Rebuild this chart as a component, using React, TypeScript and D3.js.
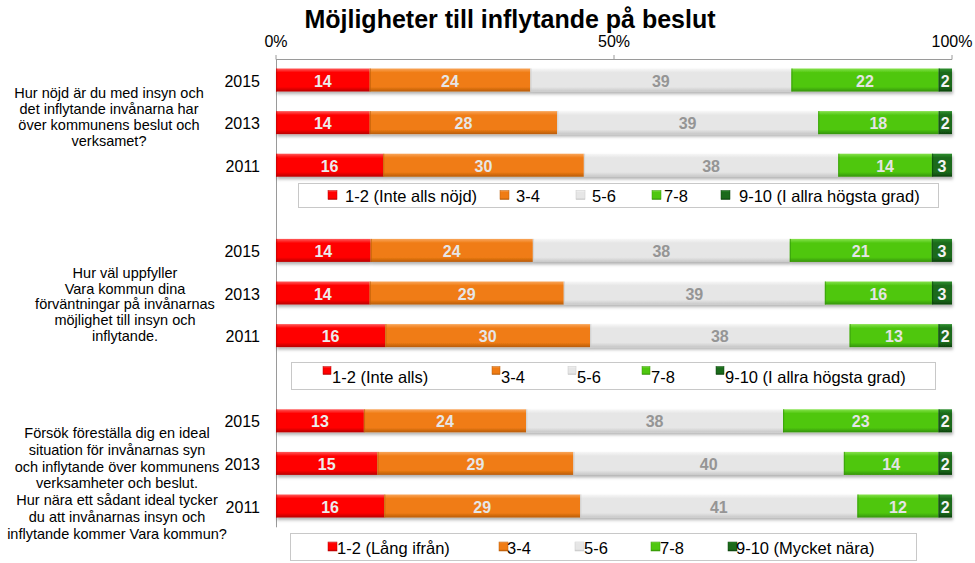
import { useMemo } from "react";
import * as d3 from "d3";

const TITLE = "Möjligheter till inflytande på beslut";
const YEARS = ["2015", "2013", "2011"];
const CATEGORIES = ["1-2", "3-4", "5-6", "7-8", "9-10"];
const TICKS = [0, 0.5, 1];

// one row per year (2015, 2013, 2011), values per category
const Q1_VALUES = [
  [14, 24, 39, 22, 2],
  [14, 28, 39, 18, 2],
  [16, 30, 38, 14, 3],
];
const Q2_VALUES = [
  [14, 24, 38, 21, 3],
  [14, 29, 39, 16, 3],
  [16, 30, 38, 13, 2],
];
const Q3_VALUES = [
  [13, 24, 38, 23, 2],
  [15, 29, 40, 14, 2],
  [16, 29, 41, 12, 2],
];

const Q1_TEXT = [
  "Hur nöjd är du med insyn och",
  "det inflytande invånarna har",
  "över kommunens beslut och",
  "verksamet?",
];
const Q2_TEXT = [
  "Hur väl uppfyller",
  "Vara kommun dina",
  "förväntningar på invånarnas",
  "möjlighet till insyn och",
  "inflytande.",
];
const Q3_TEXT = [
  "Försök föreställa dig en ideal",
  "situation för invånarnas syn",
  "och inflytande över kommunens",
  "verksamheter och beslut.",
  "Hur nära ett sådant ideal tycker",
  "du att invånarnas insyn och",
  "inflytande kommer Vara kommun?",
];

const Q1_LEGEND = ["1-2 (Inte alls nöjd)", "3-4", "5-6", "7-8", "9-10 (I allra högsta grad)"];
const Q2_LEGEND = ["1-2 (Inte alls)", "3-4", "5-6", "7-8", "9-10 (I allra högsta grad)"];
const Q3_LEGEND = ["1-2 (Lång ifrån)", "3-4", "5-6", "7-8", "9-10 (Mycket nära)"];

const COLORS = [
  { top: "#ff5a5a", main: "#ff0000", bottom: "#b80000", label: "#ececec" },
  { top: "#f9a55a", main: "#f07c14", bottom: "#b85c08", label: "#e6e6e6" },
  { top: "#f7f7f7", main: "#e6e6e6", bottom: "#c8c8c8", label: "#959595" },
  { top: "#86e24c", main: "#4fc70f", bottom: "#349406", label: "#e4e4e4" },
  { top: "#2f8f2f", main: "#1b6a1b", bottom: "#0c420c", label: "#f4f4f4" },
];

const FONT = "'Liberation Sans', Arial, Helvetica, sans-serif";
const W = 975;
const H = 563;

const GROUPS = [
  {
    values: Q1_VALUES,
    text: Q1_TEXT,
    legend: Q1_LEGEND,
    textX: 109,
    textY: 93,
    lineH: 16,
    box: [298, 183, 640, 24],
    sq: 9,
    items: [[328, 345], [500, 516], [576, 592], [652, 664], [721, 739]],
    sqDy: 0,
  },
  {
    values: Q2_VALUES,
    text: Q2_TEXT,
    legend: Q2_LEGEND,
    textX: 125,
    textY: 273,
    lineH: 15.7,
    box: [291, 362, 644, 27],
    sq: 8,
    items: [[323, 332], [492, 501], [568, 577], [642, 651], [716, 725]],
    sqDy: -5,
  },
  {
    values: Q3_VALUES,
    text: Q3_TEXT,
    legend: Q3_LEGEND,
    textX: 117,
    textY: 433,
    lineH: 16.8,
    box: [290, 533, 626, 27],
    sq: 9,
    items: [[328, 337], [499, 507], [575, 584], [651, 660], [728, 736]],
    sqDy: 0,
  },
];

const App = () => {
  const rowKeys = useMemo(() => {
    const keys: string[] = [];
    GROUPS.forEach((g, gi) => {
      YEARS.forEach((y) => keys.push(`${gi}-${y}`));
      if (gi < GROUPS.length - 1) keys.push(`gap-${gi}`);
    });
    return keys;
  }, []);

  const yScale = d3
    .scaleBand<string>()
    .domain(rowKeys)
    .range([58.7, 527.3])
    .paddingInner(0.46)
    .paddingOuter(0.23);

  const xScale = d3.scaleLinear().domain([0, 1]).range([276, 952]);

  const stack = d3
    .stack<number[], number>()
    .keys(CATEGORIES.map((_, i) => i))
    .value((d, k) => d[k])
    .offset(d3.stackOffsetExpand);

  const bw = yScale.bandwidth();

  return (
    <div style={{ position: "absolute", left: 0, top: 0 }}>
      <svg width={W} height={H} style={{ display: "block", background: "#fff" }}>
        <defs>
          {COLORS.map((c, i) => (
            <linearGradient key={i} id={`grad${i}`} x1="0" y1="0" x2="0" y2="1">
              <stop offset="0%" stopColor={c.top} />
              <stop offset="18%" stopColor={c.main} />
              <stop offset="80%" stopColor={c.main} />
              <stop offset="100%" stopColor={c.bottom} />
            </linearGradient>
          ))}
          <filter id="shadow" x="-5%" y="-30%" width="110%" height="170%">
            <feDropShadow dx="1" dy="2.5" stdDeviation="1.5" floodColor="#000" floodOpacity="0.3" />
          </filter>
        </defs>

        <text
          x={510}
          y={28}
          textAnchor="middle"
          fontFamily={FONT}
          fontWeight="bold"
          fontSize={25}
          fill="#000"
        >
          {TITLE}
        </text>

        {/* top axis */}
        <line x1={xScale(0)} x2={xScale(1)} y1={59.5} y2={59.5} stroke="#9a9a9a" />
        {TICKS.map((t) => (
          <g key={t}>
            <line x1={xScale(t)} x2={xScale(t)} y1={55} y2={59.5} stroke="#9a9a9a" />
            <text
              x={xScale(t)}
              y={47}
              textAnchor="middle"
              fontFamily={FONT}
              fontSize={16}
              fill="#000"
            >
              {d3.format(".0%")(t)}
            </text>
          </g>
        ))}
        <line x1={xScale(0) + 0.5} x2={xScale(0) + 0.5} y1={59.5} y2={527.3} stroke="#9a9a9a" />

        {GROUPS.map((g, gi) => {
          const series = stack(g.values);
          return (
            <g key={gi}>
              {/* bars */}
              {YEARS.map((year, ri) => {
                const y0 = yScale(`${gi}-${year}`) as number;
                return (
                  <g key={year}>
                    <text
                      x={260}
                      y={y0 + bw / 2 + 1}
                      textAnchor="end"
                      dominantBaseline="central"
                      fontFamily={FONT}
                      fontSize={16}
                      fill="#000"
                    >
                      {year}
                    </text>
                    <g filter="url(#shadow)">
                      {series.map((s, ci) => {
                        const x0 = xScale(s[ri][0]);
                        const x1 = xScale(s[ri][1]);
                        return (
                          <g key={ci}>
                            <rect x={x0} y={y0} width={x1 - x0} height={bw} fill={`url(#grad${ci})`} />
                            <rect
                              x={x0}
                              y={y0}
                              width={1.2}
                              height={bw}
                              fill={COLORS[ci].bottom}
                              opacity={0.6}
                            />
                          </g>
                        );
                      })}
                    </g>
                    {series.map((s, ci) => {
                      const x0 = xScale(s[ri][0]);
                      const x1 = xScale(s[ri][1]);
                      return (
                        <text
                          key={ci}
                          x={(x0 + x1) / 2}
                          y={y0 + bw / 2 + 1}
                          textAnchor="middle"
                          dominantBaseline="central"
                          fontFamily={FONT}
                          fontWeight="bold"
                          fontSize={16}
                          fill={COLORS[ci].label}
                        >
                          {g.values[ri][ci]}
                        </text>
                      );
                    })}
                  </g>
                );
              })}

              {/* question text */}
              <text
                textAnchor="middle"
                fontFamily={FONT}
                fontSize={14.5}
                fill="#000"
                dominantBaseline="central"
              >
                {g.text.map((line, li) => (
                  <tspan key={li} x={g.textX} y={g.textY + li * g.lineH}>
                    {line}
                  </tspan>
                ))}
              </text>

              {/* legend */}
              <rect
                x={g.box[0] + 0.5}
                y={g.box[1] + 0.5}
                width={g.box[2]}
                height={g.box[3]}
                fill="#fff"
                stroke="#c8c8c8"
              />
              {g.legend.map((label, li) => {
                const cy = g.box[1] + g.box[3] / 2;
                return (
                  <g key={li}>
                    <rect
                      x={g.items[li][0]}
                      y={cy - g.sq / 2 + g.sqDy}
                      width={g.sq}
                      height={g.sq}
                      fill={`url(#grad${li})`}
                      stroke={COLORS[li].bottom}
                      strokeWidth={0.5}
                    />
                    <text
                      x={g.items[li][1]}
                      y={cy + 1}
                      dominantBaseline="central"
                      fontFamily={FONT}
                      fontSize={16.5}
                      fill="#000"
                    >
                      {label}
                    </text>
                  </g>
                );
              })}
            </g>
          );
        })}
      </svg>
    </div>
  );
};

export default App;
